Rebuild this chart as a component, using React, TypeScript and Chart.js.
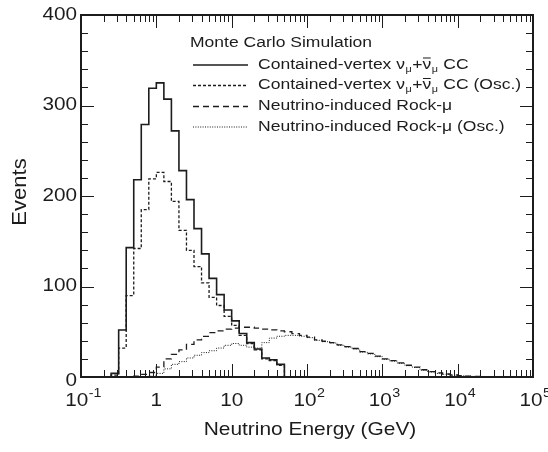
import React, { useEffect, useRef } from "react";
import { Chart, registerables } from "chart.js";

Chart.register(...registerables);

// Histogram bins are 0.1 decade wide in log10(E/GeV)
const BIN_WIDTH_LOG = 0.1;

const containedStartLog = -0.6;
const containedCC = [4, 52, 143, 218, 279, 319, 325, 307, 272, 228, 196, 164, 136, 109, 91, 74, 62, 48, 38, 31, 21, 19, 14];
const containedCCOsc = [2, 32, 90, 142, 185, 219, 226, 216, 194, 162, 140, 122, 104, 88, 79, 67, 57, 46, 37, 30, 20, 18, 13];

const rockStartLog = -0.3;
const rockMu = [1, 3, 5, 11, 20, 25, 30, 36, 41, 45, 49, 51, 53, 54, 55, 55, 54, 53, 52, 51, 50, 48, 46, 44, 41, 39.5, 38, 35.5, 33.5, 31.5, 28, 26, 23, 20, 18, 15.5, 13, 11, 8, 6, 4.5, 3.3, 2.2, 1.5, 1, 0.6, 0.4, 0.2];

const rockOscStartLog = -0.1;
const rockMuOsc = [1, 4, 9, 14, 17, 21, 24, 27, 29, 32, 35, 37, 35, 33, 32, 38, 43, 45, 46, 46, 45, 43.5, 40.5, 39, 37.5, 35, 33, 31, 27.5, 25.5, 22.5, 19.5, 17.5, 15, 12.5, 10.5, 7.5, 5.5, 4, 3, 2, 1.3, 0.9, 0.5, 0.3, 0.2];

const yTicks = [0, 100, 200, 300, 400];
const xDecades = [-1, 0, 1, 2, 3, 4, 5];

const legendTitle = "Monte Carlo Simulation";
const seriesLabels = [
  "Contained-vertex \u03bd\u03bc+\u03bd\u0304\u03bc CC",
  "Contained-vertex \u03bd\u03bc+\u03bd\u0304\u03bc CC (Osc.)",
  "Neutrino-induced Rock-\u03bc",
  "Neutrino-induced Rock-\u03bc (Osc.)",
];

const INK = "#1c1c1c";
const FONT = "'Liberation Sans', Arial, Helvetica, sans-serif";

function histPoints(startLog: number, values: number[]) {
  const pts: { x: number; y: number }[] = [{ x: Math.pow(10, startLog), y: 0 }];
  values.forEach((v, i) => pts.push({ x: Math.pow(10, startLog + i * BIN_WIDTH_LOG), y: v }));
  pts.push({ x: Math.pow(10, startLog + values.length * BIN_WIDTH_LOG), y: 0 });
  return pts;
}

function txt(ctx: CanvasRenderingContext2D, s: string, x: number, y: number, size: number, align: CanvasTextAlign, sx = 1) {
  ctx.save();
  ctx.font = `${size}px ${FONT}`;
  ctx.textAlign = align;
  ctx.textBaseline = "middle";
  ctx.translate(x, y);
  ctx.scale(sx, 1);
  ctx.fillText(s, 0, 0);
  ctx.restore();
}

function measure(ctx: CanvasRenderingContext2D, s: string, size: number, sx = 1) {
  ctx.save();
  ctx.font = `${size}px ${FONT}`;
  const w = ctx.measureText(s).width * sx;
  ctx.restore();
  return w;
}

// draw legend label with subscripts: parts between markers
function drawRich(ctx: CanvasRenderingContext2D, label: string, x: number, y: number, size: number, sx: number) {
  // subscript mu: any \u03bc immediately following \u03bd or \u03bd\u0304
  let cx = x;
  const chars = Array.from(label);
  let buf = "";
  const flush = () => {
    if (!buf) return;
    txt(ctx, buf, cx, y, size, "left", sx);
    cx += measure(ctx, buf, size, sx);
    buf = "";
  };
  for (let i = 0; i < chars.length; i++) {
    const c = chars[i];
    const prev = chars[i - 1];
    if (c === "\u03bc" && (prev === "\u03bd" || prev === "\u0304")) {
      flush();
      const ss = size * 0.62;
      txt(ctx, c, cx + 0.5, y + size * 0.3, ss, "left", sx);
      cx += measure(ctx, c, ss, sx) + 1;
    } else if (c === "\u0304") {
      // overbar above previous nu
      flush();
      const nuW = measure(ctx, "\u03bd", size, sx);
      ctx.save();
      ctx.strokeStyle = INK;
      ctx.lineWidth = 1;
      ctx.beginPath();
      ctx.moveTo(cx - nuW + 0.5, y - size * 0.42);
      ctx.lineTo(cx - 0.5, y - size * 0.42);
      ctx.stroke();
      ctx.restore();
    } else {
      buf += c;
    }
  }
  flush();
}

const decorPlugin = {
  id: "decor",
  afterDraw(chart: any) {
    const ctx: CanvasRenderingContext2D = chart.ctx;
    const { left, right, top, bottom } = chart.chartArea;
    const xs = chart.scales.x;
    const ys = chart.scales.y;
    ctx.save();
    ctx.strokeStyle = INK;
    ctx.fillStyle = INK;

    // ticks
    ctx.lineWidth = 1;
    ctx.beginPath();
    for (let v = 0; v <= 400; v += 20) {
      const py = Math.round(ys.getPixelForValue(v)) + 0.5;
      const len = v % 100 === 0 ? 13 : 7;
      ctx.moveTo(left, py);
      ctx.lineTo(left + len, py);
      ctx.moveTo(right, py);
      ctx.lineTo(right - len, py);
    }
    for (const d of xDecades) {
      for (let k = 1; k <= 9; k++) {
        if (d === 5 && k > 1) break;
        const px = Math.round(xs.getPixelForValue(k * Math.pow(10, d))) + 0.5;
        const len = k === 1 ? 13 : 7;
        ctx.moveTo(px, bottom);
        ctx.lineTo(px, bottom - len);
        ctx.moveTo(px, top);
        ctx.lineTo(px, top + len);
      }
    }
    ctx.stroke();

    // frame
    ctx.lineWidth = 2;
    ctx.strokeRect(left, top, right - left, bottom - top);

    // y tick labels
    for (const v of yTicks) {
      txt(ctx, String(v), left - 4, ys.getPixelForValue(v) + (v === 0 ? 4 : 0), 18, "right", 1.15);
    }
    // x tick labels
    const ly = bottom + 24;
    for (const d of xDecades) {
      const px = xs.getPixelForValue(Math.pow(10, d));
      if (d === 0) {
        txt(ctx, "1", px, ly, 18, "center", 1.15);
      } else if (d === 1) {
        txt(ctx, "10", px, ly, 18, "center", 1.15);
      } else {
        const base = "10";
        const exp = d < 0 ? "-" + String(-d) : String(d);
        const bw = measure(ctx, base, 18, 1.15);
        const ew = measure(ctx, exp, 13, 1.1);
        const start = px - (bw + ew) / 2 + 2;
        txt(ctx, base, start, ly, 18, "left", 1.15);
        txt(ctx, exp, start + bw + 0.5, ly - 8, 13, "left", 1.1);
      }
    }

    // axis titles
    txt(ctx, "Neutrino Energy (GeV)", (left + right) / 2 + 3, bottom + 53, 19, "center", 1.1);
    ctx.save();
    ctx.translate(20, 192);
    ctx.rotate(-Math.PI / 2);
    txt(ctx, "Events", 0, 0, 20, "center", 1.1);
    ctx.restore();

    // legend
    txt(ctx, legendTitle, 190, 43, 15.5, "left", 1.13);
    const rows = [64.5, 85, 106, 126.5];
    const dashes = [[], [3, 2], [6, 4], [1, 1.4]];
    const widths = [1.6, 1.3, 1.3, 1];
    rows.forEach((ry, i) => {
      ctx.save();
      ctx.lineWidth = widths[i];
      ctx.setLineDash(dashes[i]);
      ctx.beginPath();
      ctx.moveTo(193, ry + 0.5);
      ctx.lineTo(248, ry + 0.5);
      ctx.stroke();
      ctx.restore();
      drawRich(ctx, seriesLabels[i], 258, ry, 15.5, 1.13);
    });
    ctx.restore();
  },
};

export default function App() {
  const ref = useRef<HTMLCanvasElement | null>(null);
  useEffect(() => {
    if (!ref.current) return;
    const chart = new Chart(ref.current, {
      type: "line",
      data: {
        datasets: [
          { label: seriesLabels[0], data: histPoints(containedStartLog, containedCC), borderColor: INK, borderWidth: 1.6, stepped: true, pointRadius: 0, fill: false },
          { label: seriesLabels[1], data: histPoints(containedStartLog, containedCCOsc), borderColor: INK, borderWidth: 1.3, borderDash: [3, 2], stepped: true, pointRadius: 0, fill: false },
          { label: seriesLabels[2], data: histPoints(rockStartLog, rockMu), borderColor: INK, borderWidth: 1.3, borderDash: [6, 4], stepped: true, pointRadius: 0, fill: false },
          { label: seriesLabels[3], data: histPoints(rockOscStartLog, rockMuOsc), borderColor: INK, borderWidth: 1, borderDash: [1, 1.4], stepped: true, pointRadius: 0, fill: false },
        ],
      },
      options: {
        responsive: false,
        animation: false,
        parsing: false,
        layout: { padding: { left: 81, right: 15, top: 15, bottom: 75 } },
        scales: {
          x: { type: "logarithmic", min: 0.1, max: 1e5, display: false },
          y: { type: "linear", min: 0, max: 400, display: false },
        },
        plugins: { legend: { display: false }, tooltip: { enabled: false } },
      } as any,
      plugins: [decorPlugin],
    });
    return () => chart.destroy();
  }, []);
  return (
    <div style={{ position: "absolute", left: 0, top: 0, width: 548, height: 452, background: "#fff" }}>
      <canvas ref={ref} width={548} height={452} />
    </div>
  );
}
